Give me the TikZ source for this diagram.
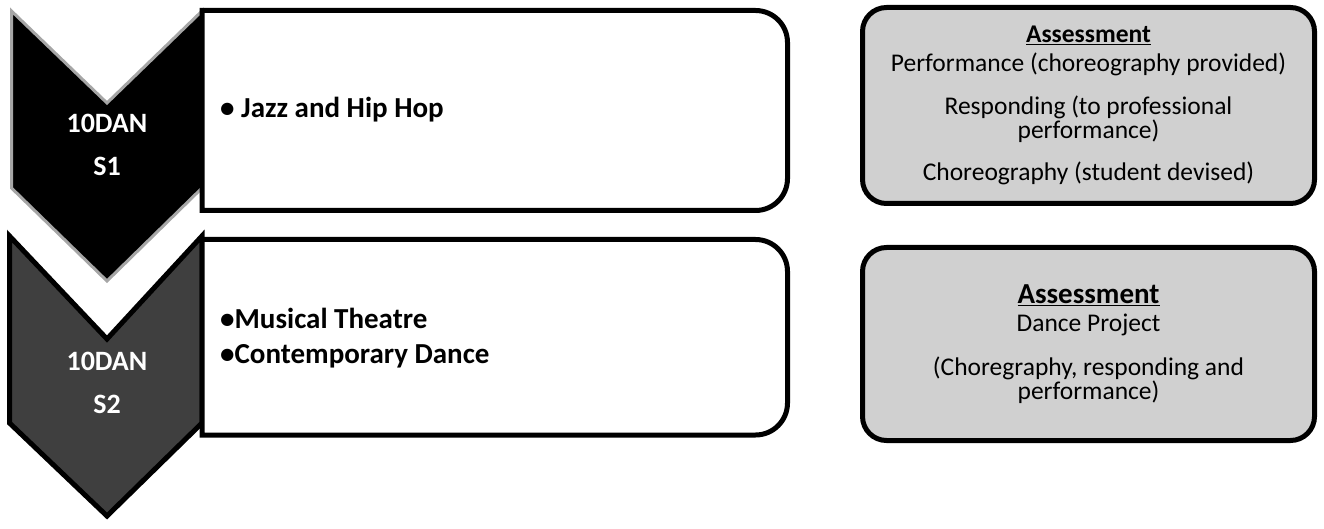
\documentclass[tikz,border=0pt]{standalone}
\usepackage{fontspec}
\setmainfont{Carlito}
\usetikzlibrary{positioning}
\definecolor{assessgray}{HTML}{D0D0D0}
\definecolor{chevdark}{HTML}{3F3F3F}
\definecolor{chevedge}{HTML}{A6A6A6}
\lineskiplimit=-100pt

\begin{document}
\begin{tikzpicture}[x=1pt,y=-1pt,
		chevtext/.style={text=white,font=\fontsize{28}{28}\selectfont\bfseries,align=center,inner sep=0pt},
		topicbox/.style={draw,line width=5pt,fill=white},
		topictext/.style={anchor=west,font=\fontsize{29}{35}\selectfont\bfseries,align=left,inner sep=0pt},
		assessbox/.style={draw,line width=5pt,fill=assessgray,rounded corners=24pt,minimum width=452pt,align=center,font=\fontsize{25.5}{24}\selectfont,inner sep=0pt}]
		\useasboundingbox (0,0) rectangle (1324,529);
		% semester chevrons
		\draw[line width=3pt,draw=chevedge,fill=black,line join=miter] (11.5,11) -- (107,103) -- (202,11) -- (202,188) -- (107,281) -- (11.5,188) -- cycle;
		\draw[line width=5pt,fill=chevdark,line join=miter] (9.5,236) -- (107,339) -- (202,236) -- (202,423) -- (107,516) -- (9.5,423) -- cycle;
		\node[chevtext] (s1) at (107,145) {10DAN\\[15pt]S1};
		\node[chevtext] (s2) at (107,383) {10DAN\\[15pt]S2};
		% topic boxes
		\draw[topicbox] (202,10.5) -- (755.5,10.5) arc[start angle=-90,end angle=0,radius=32] -- (787.5,178.5) arc[start angle=0,end angle=90,radius=32] -- (202,210.5) -- cycle;
		\draw[topicbox] (202,239.5) -- (755.5,239.5) arc[start angle=-90,end angle=0,radius=32] -- (787.5,403) arc[start angle=0,end angle=90,radius=32] -- (202,435) -- cycle;
		\node[topictext] (topic1) at (220,110) {• Jazz and Hip Hop};
		\node[topictext] (topic2) at (220,338) {•Musical Theatre\\•Contemporary Dance};
		% assessment boxes
		\node[assessbox,minimum height=196pt] (assess1) at (1088.5,105.5) {{\bfseries\underline{Assessment}}\\[5pt]Performance (choreography provided)\\[19pt]Responding (to professional\\performance)\\[18pt]Choreography (student devised)};
		\node[assessbox,minimum height=193pt] (assess2) at (1088.5,344) {{\fontsize{29}{29}\selectfont\bfseries\underline{Assessment}}\\[4pt]Dance Project\\[20pt](Choregraphy, responding and\\performance)};
	\end{tikzpicture}
\end{document}
